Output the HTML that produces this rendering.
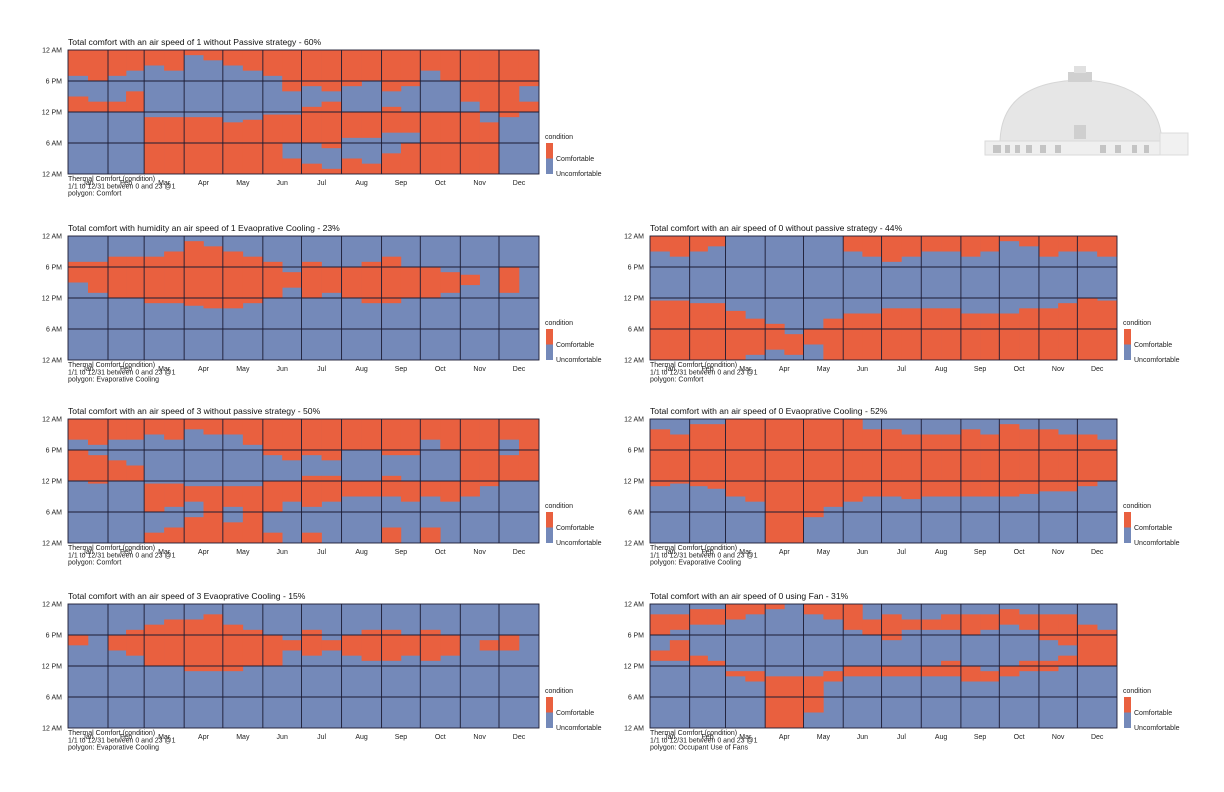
<!DOCTYPE html>
<html><head><meta charset="utf-8"><style>
html,body{margin:0;padding:0;background:#fff;width:1224px;height:792px;overflow:hidden}
svg{display:block;font-family:"Liberation Sans",Arial,sans-serif}
</style></head><body>
<svg id="page" width="1224" height="792" viewBox="0 0 1224 792" xmlns="http://www.w3.org/2000/svg">
<g id="building">
<path d="M1000 141 Q1002 82 1080 80 Q1158 82 1162 141 Z" fill="#e6e6e6" stroke="#d6d6d6"/>
<rect x="1068" y="72" width="24" height="10" fill="#d0d0d0"/>
<rect x="1074" y="66" width="12" height="7" fill="#e0e0e0"/>
<rect x="1074" y="125" width="12" height="14" fill="#cfcfcf"/>
<rect x="985" y="141" width="200" height="14" fill="#efefef" stroke="#dadada"/>
<rect x="1160" y="133" width="28" height="22" fill="#f1f1f1" stroke="#dcdcdc"/>
<g fill="#c4c4c4"><rect x="993" y="145" width="8" height="8"/><rect x="1005" y="145" width="5" height="8"/><rect x="1015" y="145" width="5" height="8"/><rect x="1026" y="145" width="6" height="8"/><rect x="1040" y="145" width="6" height="8"/><rect x="1055" y="145" width="6" height="8"/><rect x="1100" y="145" width="6" height="8"/><rect x="1115" y="145" width="6" height="8"/><rect x="1132" y="145" width="5" height="8"/><rect x="1144" y="145" width="5" height="8"/></g>
</g>
<g id="charts"></g>
</svg>
<script>
const months = ["Jan","Feb","Mar","Apr","May","Jun","Jul","Aug","Sep","Oct","Nov","Dec"];
const monthDays = [31,28,31,30,31,30,31,31,30,31,30,31];
const yTickHours = [24,18,12,6,0];
const yTickLabels = ["12 AM","6 PM","12 PM","6 AM","12 AM"];
// comfortable hour bands per half-month (24 entries each), hours from 0 (bottom) to 24 (top)
const c1Bands = [[[12,15],[19,24]],[[12,14],[18,24]],[[12,14],[19,24]],[[12,16],[20,24]],[[0,11],[21,24]],[[0,11],[20,24]],[[0,11],[23,24]],[[0,11],[22,24]],[[0,10],[21,24]],[[0,10.5],[20,24]],[[0,11.5],[19,24]],[[0,3],[6,11.5],[16,24]],[[0,2],[6,13],[17,24]],[[0,1],[5,14],[16,24]],[[0,3],[7,12],[17,24]],[[0,2],[7,12],[18,24]],[[0,4],[8,13],[16,24]],[[0,6],[8,12],[17,24]],[[0,12],[20,24]],[[0,12],[18,24]],[[0,12],[14,24]],[[0,10],[12,24]],[[11,24]],[[12,14],[17,24]]];
const c2Bands = [[[15,19]],[[13,19]],[[12,20]],[[12,20]],[[11,20]],[[11,21]],[[10.5,23]],[[10,22]],[[10,21]],[[11,20]],[[12,19]],[[14,17]],[[12,19]],[[13,18]],[[12,18]],[[11,19]],[[11,20]],[[12,18]],[[12,18]],[[13,17]],[[14.5,16.5]],[],[[13,18]],[]];
const c3Bands = [[[12,18],[20,24]],[[11.5,17],[19,24]],[[12,16],[20,24]],[[12,15],[20,24]],[[0,2],[6,11.5],[21,24]],[[0,3],[7,11.5],[20,24]],[[0,5],[8,11],[22,24]],[[0,11],[21,24]],[[0,4],[7,11],[21,24]],[[0,11],[19,24]],[[0,2],[6,12],[17,24]],[[8,12],[16,24]],[[0,2],[7,13],[17,24]],[[8,13],[16,24]],[[9,12],[18,24]],[[9,12],[18,24]],[[0,3],[9,13],[17,24]],[[8,12],[17,24]],[[0,3],[9,12],[20,24]],[[8,12],[18,24]],[[9,24]],[[11,24]],[[12,17],[20,24]],[[12,24]]];
const c4Bands = [[[16,18]],[],[[15,18]],[[14,19]],[[12,20]],[[12,21]],[[11,21]],[[11,22]],[[11,20]],[[12,19]],[[12,18]],[[15,17]],[[14,19]],[[15,17]],[[14,18]],[[13,19]],[[13,19]],[[14,18]],[[13,19]],[[14,18]],[],[[15,17]],[[15,18]],[]];
const c5Bands = [[[0,11.5],[21,24]],[[0,11.5],[20,24]],[[0,11],[21,24]],[[0,11],[22,24]],[[0,9.5]],[[1,8]],[[2,7]],[[1,5]],[[3,6]],[[0,8]],[[0,9],[21,24]],[[0,9],[20,24]],[[0,10],[19,24]],[[0,10],[20,24]],[[0,10],[21,24]],[[0,10],[21,24]],[[0,9],[20,24]],[[0,9],[21,24]],[[0,9],[23,24]],[[0,10],[22,24]],[[0,10],[20,24]],[[0,11],[21,24]],[[0,12],[21,24]],[[0,11.5],[20,24]]];
const c6Bands = [[[11,22]],[[11.5,21]],[[11,23]],[[10.5,23]],[[9,24]],[[8,24]],[[0,24]],[[0,24]],[[5,24]],[[7,24]],[[8,24]],[[9,22]],[[9,22]],[[8.5,21]],[[9,21]],[[9,21]],[[9,22]],[[9,21]],[[9,23]],[[9.5,22]],[[10,22]],[[10,21]],[[11,21]],[[12,20]]];
const c7Bands = [[[13,15],[18,22]],[[13,17],[19,22]],[[12,14],[20,23]],[[12,13],[20,23]],[[10,11],[21,24]],[[9,11],[22,24]],[[0,10],[23,24]],[[0,10]],[[3,10],[22,24]],[[9,11],[21,24]],[[10,12],[19,24]],[[10,12],[18,21]],[[10,12],[17,22]],[[10,12],[19,21]],[[10,12],[19,21]],[[10,13],[19,22]],[[9,12],[18,22]],[[9,11],[19,22]],[[10,12],[20,23]],[[11,13],[19,22]],[[11,13],[17,22]],[[12,14],[16,22]],[[12,20]],[[12,19]]];

const charts = [
 {bands:c1Bands,x:68,y:50,w:471,title:"Total comfort with an air speed of 1 without Passive strategy - 60%",poly:"polygon: Comfort",name:"chart-air1-no-passive"},
 {bands:c2Bands,x:68,y:236,w:471,title:"Total comfort with humidity an air speed of 1 Evapprative Cooling - 23%".replace("Evapprative","Evaoprative"),poly:"polygon: Evaporative Cooling",name:"chart-air1-evap"},
 {bands:c3Bands,x:68,y:419,w:471,title:"Total comfort with an air speed of 3 without passive strategy - 50%",poly:"polygon: Comfort",name:"chart-air3-no-passive"},
 {bands:c4Bands,x:68,y:604,w:471,title:"Total comfort with an air speed of 3 Evaoprative Cooling - 15%",poly:"polygon: Evaporative Cooling",name:"chart-air3-evap"},
 {bands:c5Bands,x:650,y:236,w:467,title:"Total comfort with an air speed of 0 without passive strategy - 44%",poly:"polygon: Comfort",name:"chart-air0-no-passive"},
 {bands:c6Bands,x:650,y:419,w:467,title:"Total comfort with an air speed of 0 Evaoprative Cooling - 52%",poly:"polygon: Evaporative Cooling",name:"chart-air0-evap"},
 {bands:c7Bands,x:650,y:604,w:467,title:"Total comfort with an air speed of 0 using Fan - 31%",poly:"polygon: Occupant Use of Fans",name:"chart-air0-fan"}
];
const ORANGE="#e9603f", BLUE="#7489b9", GRID="#1b1b33";
const NS="http://www.w3.org/2000/svg";
function mk(tag,attrs,parent,text){const e=document.createElementNS(NS,tag);for(const k in attrs)e.setAttribute(k,attrs[k]);if(text!==undefined)e.textContent=text;parent.appendChild(e);return e;}
const root=document.getElementById('charts');
const monthStart=[];let acc=0;for(const d of monthDays){monthStart.push(acc);acc+=d;}
const totalDays=acc;

charts.forEach(cfg=>{
  const H=124;
  const g=mk('g',{},root);
  
  
  const xs=d=>cfg.x+d/totalDays*cfg.w;
  const ys=h=>cfg.y+H-h/24*H;
  const t=mk('text',{x:cfg.x,y:cfg.y-5,'font-size':8.6,fill:'#111'},g,cfg.title);
  
  
  const bg=mk('rect',{x:cfg.x,y:cfg.y,width:cfg.w,height:H,fill:BLUE},g);
  
  
  cfg.bands.forEach((list,i)=>{
    const m=Math.floor(i/2), half=i%2;
    const d0=monthStart[m]+half*monthDays[m]/2, d1=d0+monthDays[m]/2;
    list.forEach(b=>{
      const r=mk('rect',{x:xs(d0),y:ys(b[1]),width:xs(d1)-xs(d0)+0.3,height:ys(b[0])-ys(b[1]),fill:ORANGE},g);
      
      
    });
  });
  // grid
  monthStart.slice(1).forEach(d=>{mk('line',{x1:xs(d),x2:xs(d),y1:cfg.y,y2:cfg.y+H,stroke:GRID,'stroke-width':0.9},g);});
  [6,12,18].forEach(h=>{mk('line',{x1:cfg.x,x2:cfg.x+cfg.w,y1:ys(h),y2:ys(h),stroke:GRID,'stroke-width':0.9},g);});
  mk('rect',{x:cfg.x,y:cfg.y,width:cfg.w,height:H,fill:'none',stroke:GRID,'stroke-width':0.9},g);
  yTickHours.forEach((h,i)=>{
    const l=mk('text',{x:cfg.x-6,y:ys(h)+2.5,'font-size':7,'text-anchor':'end',fill:'#222'},g,yTickLabels[i]);
    
    
  });
  months.forEach((m,i)=>{
    const l=mk('text',{x:xs(monthStart[i]+monthDays[i]/2),y:cfg.y+H+11,'font-size':7,'text-anchor':'middle',fill:'#222'},g,m);
    
    
  });
  ["Thermal Comfort (condition)","1/1 to 12/31 between 0 and 23 @1",cfg.poly].forEach((s,i)=>{
    const l=mk('text',{x:cfg.x,y:cfg.y+H+7+i*7.3,'font-size':7,fill:'#222'},g,s);
    
    
  });
  const lx=cfg.x+cfg.w+7, by=cfg.y+H;
  const lg=mk('g',{},g);
  
  
  mk('text',{x:lx-1,y:by-35,'font-size':7,fill:'#222'},lg,'condition');
  mk('rect',{x:lx,y:by-31,width:7,height:15.5,fill:ORANGE},lg);
  mk('rect',{x:lx,y:by-15.5,width:7,height:15.5,fill:BLUE},lg);
  mk('text',{x:lx+10,y:by-13,'font-size':7,fill:'#222'},lg,'Comfortable');
  mk('text',{x:lx+10,y:by+2,'font-size':7,fill:'#222'},lg,'Uncomfortable');
});
</script>
</body></html>
